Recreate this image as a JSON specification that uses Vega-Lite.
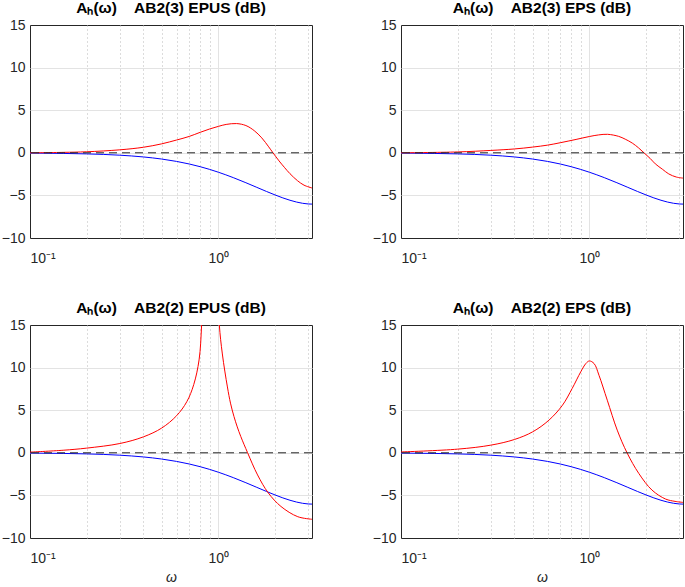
{
  "$schema": "https://vega.github.io/schema/vega-lite/v6.json",
  "padding": {"left": 0, "top": 0, "right": 0, "bottom": 0},
  "background": "white",
  "datasets": {
    "blue": [
      {"w": 0.1, "dB": -0.032}, {"w": 0.15, "dB": -0.073}, {"w": 0.2, "dB": -0.128}, {"w": 0.3, "dB": -0.282},
      {"w": 0.4, "dB": -0.486}, {"w": 0.5, "dB": -0.732}, {"w": 0.6, "dB": -1.011}, {"w": 0.7, "dB": -1.312},
      {"w": 0.8, "dB": -1.629}, {"w": 0.9, "dB": -1.952}, {"w": 1.0, "dB": -2.278}, {"w": 1.2, "dB": -2.915},
      {"w": 1.4, "dB": -3.512}, {"w": 1.6, "dB": -4.055}, {"w": 1.8, "dB": -4.535}, {"w": 2.0, "dB": -4.947},
      {"w": 2.2, "dB": -5.293}, {"w": 2.4, "dB": -5.57}, {"w": 2.6, "dB": -5.781}, {"w": 2.8, "dB": -5.926},
      {"w": 3.0, "dB": -6.004}, {"w": 3.1416, "dB": -6.021}
    ],
    "p1": [
      {"w": 0.1, "dB": 0.0, "seg": 1}, {"w": 0.15, "dB": 0.05, "seg": 1}, {"w": 0.2, "dB": 0.12, "seg": 1},
      {"w": 0.3, "dB": 0.35, "seg": 1}, {"w": 0.4, "dB": 0.65, "seg": 1}, {"w": 0.5, "dB": 1.05, "seg": 1},
      {"w": 0.6, "dB": 1.5, "seg": 1}, {"w": 0.7, "dB": 1.92, "seg": 1}, {"w": 0.8, "dB": 2.4, "seg": 1},
      {"w": 0.9, "dB": 2.8, "seg": 1}, {"w": 1.0, "dB": 3.1, "seg": 1}, {"w": 1.1, "dB": 3.33, "seg": 1},
      {"w": 1.25, "dB": 3.43, "seg": 1}, {"w": 1.4, "dB": 3.2, "seg": 1}, {"w": 1.55, "dB": 2.6, "seg": 1},
      {"w": 1.7, "dB": 1.75, "seg": 1}, {"w": 1.85, "dB": 0.7, "seg": 1}, {"w": 1.95, "dB": 0.0, "seg": 1},
      {"w": 2.1, "dB": -0.95, "seg": 1}, {"w": 2.24, "dB": -1.7, "seg": 1}, {"w": 2.4, "dB": -2.45, "seg": 1},
      {"w": 2.63, "dB": -3.27, "seg": 1}, {"w": 2.85, "dB": -3.8, "seg": 1}, {"w": 3.1416, "dB": -4.13, "seg": 1}
    ],
    "p2": [
      {"w": 0.1, "dB": 0.0, "seg": 1}, {"w": 0.2, "dB": 0.1, "seg": 1}, {"w": 0.3, "dB": 0.28, "seg": 1},
      {"w": 0.4, "dB": 0.45, "seg": 1}, {"w": 0.5, "dB": 0.67, "seg": 1}, {"w": 0.6, "dB": 0.9, "seg": 1},
      {"w": 0.7, "dB": 1.18, "seg": 1}, {"w": 0.85, "dB": 1.57, "seg": 1}, {"w": 1.0, "dB": 1.91, "seg": 1},
      {"w": 1.12, "dB": 2.1, "seg": 1}, {"w": 1.25, "dB": 2.17, "seg": 1}, {"w": 1.43, "dB": 1.93, "seg": 1},
      {"w": 1.55, "dB": 1.6, "seg": 1}, {"w": 1.69, "dB": 1.14, "seg": 1}, {"w": 1.82, "dB": 0.6, "seg": 1},
      {"w": 1.95, "dB": 0.0, "seg": 1}, {"w": 2.1, "dB": -0.65, "seg": 1}, {"w": 2.24, "dB": -1.3, "seg": 1},
      {"w": 2.45, "dB": -1.95, "seg": 1}, {"w": 2.64, "dB": -2.48, "seg": 1}, {"w": 2.9, "dB": -2.85, "seg": 1},
      {"w": 3.1416, "dB": -2.97, "seg": 1}
    ],
    "p3": [
      {"w": 0.1, "dB": 0.08, "seg": 1}, {"w": 0.15, "dB": 0.3, "seg": 1}, {"w": 0.2, "dB": 0.55, "seg": 1},
      {"w": 0.3, "dB": 1.09, "seg": 1}, {"w": 0.4, "dB": 1.87, "seg": 1}, {"w": 0.5, "dB": 2.9, "seg": 1},
      {"w": 0.6, "dB": 4.35, "seg": 1}, {"w": 0.68, "dB": 6.0, "seg": 1}, {"w": 0.74, "dB": 8.0, "seg": 1},
      {"w": 0.79, "dB": 10.9, "seg": 1}, {"w": 0.815, "dB": 15.0, "seg": 1}, {"w": 0.83, "dB": 20.0, "seg": 1},
      {"w": 0.99, "dB": 20.0, "seg": 2}, {"w": 1.012, "dB": 15.0, "seg": 2}, {"w": 1.05, "dB": 11.6, "seg": 2},
      {"w": 1.117, "dB": 7.73, "seg": 2}, {"w": 1.16, "dB": 5.83, "seg": 2}, {"w": 1.21, "dB": 4.27, "seg": 2},
      {"w": 1.26, "dB": 3.04, "seg": 2}, {"w": 1.315, "dB": 1.92, "seg": 2},
      {"w": 1.43, "dB": 0.0, "seg": 2}, {"w": 1.615, "dB": -2.6, "seg": 2}, {"w": 1.84, "dB": -4.7, "seg": 2},
      {"w": 2.15, "dB": -6.3, "seg": 2}, {"w": 2.64, "dB": -7.5, "seg": 2}, {"w": 3.1416, "dB": -7.8, "seg": 2}
    ],
    "p4": [
      {"w": 0.1, "dB": 0.1, "seg": 1}, {"w": 0.2, "dB": 0.43, "seg": 1}, {"w": 0.3, "dB": 0.9, "seg": 1},
      {"w": 0.4, "dB": 1.56, "seg": 1}, {"w": 0.5, "dB": 2.46, "seg": 1}, {"w": 0.61, "dB": 3.83, "seg": 1},
      {"w": 0.72, "dB": 5.59, "seg": 1}, {"w": 0.81, "dB": 7.54, "seg": 1}, {"w": 0.9, "dB": 9.5, "seg": 1},
      {"w": 0.96, "dB": 10.5, "seg": 1}, {"w": 1.0, "dB": 10.78, "seg": 1}, {"w": 1.06, "dB": 10.47, "seg": 1},
      {"w": 1.125, "dB": 9.1, "seg": 1}, {"w": 1.245, "dB": 6.17, "seg": 1}, {"w": 1.406, "dB": 2.66, "seg": 1},
      {"w": 1.585, "dB": 0.0, "seg": 1}, {"w": 1.83, "dB": -2.42, "seg": 1}, {"w": 2.15, "dB": -4.375, "seg": 1},
      {"w": 2.54, "dB": -5.43, "seg": 1}, {"w": 2.85, "dB": -5.7, "seg": 1}, {"w": 3.1416, "dB": -5.82, "seg": 1}
    ]
  },
  "vconcat": [
    {
      "hconcat": [
        {
          "title": "Aₕ(ω)\u00a0\u00a0\u00a0\u00a0AB2(3) EPUS (dB)",
          "width": 282, "height": 213,
          "layer": [
            {"data": {"name": "blue"}, "mark": {"type": "line", "color": "#0000ff", "strokeWidth": 1, "interpolate": "monotone", "clip": true},
             "encoding": {
               "x": {"field": "w", "type": "quantitative", "scale": {"type": "log", "domain": [0.1, 3.1416], "nice": false},
                     "axis": {"title": null, "values": [0.1,0.2,0.3,0.4,0.5,0.6,0.7,0.8,0.9,1,2,3], "labelExpr": "datum.value == 0.1 ? '10⁻¹' : (datum.value == 1 ? '10⁰' : '')", "labelOverlap": false, "labelPadding": 13,
                              "gridDash": {"condition": {"test": "datum.value == 0.1 || datum.value == 1", "value": []}, "value": [1, 3]},
                              "gridOpacity": {"condition": {"test": "datum.value == 0.1", "value": 0}, "value": 1},
                              "gridColor": {"condition": {"test": "datum.value == 0.1 || datum.value == 1", "value": "#e3e3e3"}, "value": "#b8b8b8"}}},
               "y": {"field": "dB", "type": "quantitative", "scale": {"domain": [-10, 15], "nice": false}, "axis": {"title": null, "values": [-10,-5,0,5,10,15], "gridOpacity": {"condition": {"test": "datum.value == -10 || datum.value == 15", "value": 0}, "value": 1}}}
             }},
            {"data": {"name": "p1"}, "mark": {"type": "line", "color": "#ff0000", "strokeWidth": 1, "interpolate": "catmull-rom", "clip": true},
             "encoding": {"x": {"field": "w", "type": "quantitative"}, "y": {"field": "dB", "type": "quantitative"}, "detail": {"field": "seg"}}},
            {"data": {"values": [{}]}, "mark": {"type": "rule", "color": "#262626", "strokeWidth": 1, "strokeDash": [8, 5]},
             "encoding": {"y": {"datum": 0, "type": "quantitative"}}}
          ]
        },
        {
          "title": "Aₕ(ω)\u00a0\u00a0\u00a0\u00a0AB2(3) EPS (dB)",
          "width": 282, "height": 213,
          "layer": [
            {"data": {"name": "blue"}, "mark": {"type": "line", "color": "#0000ff", "strokeWidth": 1, "interpolate": "monotone", "clip": true},
             "encoding": {
               "x": {"field": "w", "type": "quantitative", "scale": {"type": "log", "domain": [0.1, 3.1416], "nice": false},
                     "axis": {"title": null, "values": [0.1,0.2,0.3,0.4,0.5,0.6,0.7,0.8,0.9,1,2,3], "labelExpr": "datum.value == 0.1 ? '10⁻¹' : (datum.value == 1 ? '10⁰' : '')", "labelOverlap": false, "labelPadding": 13,
                              "gridDash": {"condition": {"test": "datum.value == 0.1 || datum.value == 1", "value": []}, "value": [1, 3]},
                              "gridOpacity": {"condition": {"test": "datum.value == 0.1", "value": 0}, "value": 1},
                              "gridColor": {"condition": {"test": "datum.value == 0.1 || datum.value == 1", "value": "#e3e3e3"}, "value": "#b8b8b8"}}},
               "y": {"field": "dB", "type": "quantitative", "scale": {"domain": [-10, 15], "nice": false}, "axis": {"title": null, "values": [-10,-5,0,5,10,15], "gridOpacity": {"condition": {"test": "datum.value == -10 || datum.value == 15", "value": 0}, "value": 1}}}
             }},
            {"data": {"name": "p2"}, "mark": {"type": "line", "color": "#ff0000", "strokeWidth": 1, "interpolate": "catmull-rom", "clip": true},
             "encoding": {"x": {"field": "w", "type": "quantitative"}, "y": {"field": "dB", "type": "quantitative"}, "detail": {"field": "seg"}}},
            {"data": {"values": [{}]}, "mark": {"type": "rule", "color": "#262626", "strokeWidth": 1, "strokeDash": [8, 5]},
             "encoding": {"y": {"datum": 0, "type": "quantitative"}}}
          ]
        }
      ],
      "spacing": 58
    },
    {
      "hconcat": [
        {
          "title": "Aₕ(ω)\u00a0\u00a0\u00a0\u00a0AB2(2) EPUS (dB)",
          "width": 282, "height": 213,
          "layer": [
            {"data": {"name": "blue"}, "mark": {"type": "line", "color": "#0000ff", "strokeWidth": 1, "interpolate": "monotone", "clip": true},
             "encoding": {
               "x": {"field": "w", "type": "quantitative", "scale": {"type": "log", "domain": [0.1, 3.1416], "nice": false},
                     "axis": {"title": "ω", "titleFontStyle": "italic", "titleFontWeight": "normal", "titleFontSize": 14, "titlePadding": 5, "values": [0.1,0.2,0.3,0.4,0.5,0.6,0.7,0.8,0.9,1,2,3], "labelExpr": "datum.value == 0.1 ? '10⁻¹' : (datum.value == 1 ? '10⁰' : '')", "labelOverlap": false, "labelPadding": 13,
                              "gridDash": {"condition": {"test": "datum.value == 0.1 || datum.value == 1", "value": []}, "value": [1, 3]},
                              "gridOpacity": {"condition": {"test": "datum.value == 0.1", "value": 0}, "value": 1},
                              "gridColor": {"condition": {"test": "datum.value == 0.1 || datum.value == 1", "value": "#e3e3e3"}, "value": "#b8b8b8"}}},
               "y": {"field": "dB", "type": "quantitative", "scale": {"domain": [-10, 15], "nice": false}, "axis": {"title": null, "values": [-10,-5,0,5,10,15], "gridOpacity": {"condition": {"test": "datum.value == -10 || datum.value == 15", "value": 0}, "value": 1}}}
             }},
            {"data": {"name": "p3"}, "mark": {"type": "line", "color": "#ff0000", "strokeWidth": 1, "interpolate": "catmull-rom", "clip": true},
             "encoding": {"x": {"field": "w", "type": "quantitative"}, "y": {"field": "dB", "type": "quantitative"}, "detail": {"field": "seg"}}},
            {"data": {"values": [{}]}, "mark": {"type": "rule", "color": "#262626", "strokeWidth": 1, "strokeDash": [8, 5]},
             "encoding": {"y": {"datum": 0, "type": "quantitative"}}}
          ]
        },
        {
          "title": "Aₕ(ω)\u00a0\u00a0\u00a0\u00a0AB2(2) EPS (dB)",
          "width": 282, "height": 213,
          "layer": [
            {"data": {"name": "blue"}, "mark": {"type": "line", "color": "#0000ff", "strokeWidth": 1, "interpolate": "monotone", "clip": true},
             "encoding": {
               "x": {"field": "w", "type": "quantitative", "scale": {"type": "log", "domain": [0.1, 3.1416], "nice": false},
                     "axis": {"title": "ω", "titleFontStyle": "italic", "titleFontWeight": "normal", "titleFontSize": 14, "titlePadding": 5, "values": [0.1,0.2,0.3,0.4,0.5,0.6,0.7,0.8,0.9,1,2,3], "labelExpr": "datum.value == 0.1 ? '10⁻¹' : (datum.value == 1 ? '10⁰' : '')", "labelOverlap": false, "labelPadding": 13,
                              "gridDash": {"condition": {"test": "datum.value == 0.1 || datum.value == 1", "value": []}, "value": [1, 3]},
                              "gridOpacity": {"condition": {"test": "datum.value == 0.1", "value": 0}, "value": 1},
                              "gridColor": {"condition": {"test": "datum.value == 0.1 || datum.value == 1", "value": "#e3e3e3"}, "value": "#b8b8b8"}}},
               "y": {"field": "dB", "type": "quantitative", "scale": {"domain": [-10, 15], "nice": false}, "axis": {"title": null, "values": [-10,-5,0,5,10,15], "gridOpacity": {"condition": {"test": "datum.value == -10 || datum.value == 15", "value": 0}, "value": 1}}}
             }},
            {"data": {"name": "p4"}, "mark": {"type": "line", "color": "#ff0000", "strokeWidth": 1, "interpolate": "catmull-rom", "clip": true},
             "encoding": {"x": {"field": "w", "type": "quantitative"}, "y": {"field": "dB", "type": "quantitative"}, "detail": {"field": "seg"}}},
            {"data": {"values": [{}]}, "mark": {"type": "rule", "color": "#262626", "strokeWidth": 1, "strokeDash": [8, 5]},
             "encoding": {"y": {"datum": 0, "type": "quantitative"}}}
          ]
        }
      ],
      "spacing": 58
    }
  ],
  "spacing": 34,
  "config": {
    "font": "Liberation Sans",
    "view": {"stroke": "#262626", "strokeWidth": 1},
    "axis": {"labelFont": "Liberation Sans", "labelFontSize": 14, "labelColor": "#262626", "domain": false, "ticks": false, "labelPadding": 5,
             "gridColor": "#e3e3e3", "gridWidth": 1, "titleFont": "Liberation Sans", "titleColor": "#262626"},
    "title": {"fontSize": 15.5, "fontWeight": "bold", "color": "#000000", "font": "Liberation Sans", "offset": 2}
  }
}
